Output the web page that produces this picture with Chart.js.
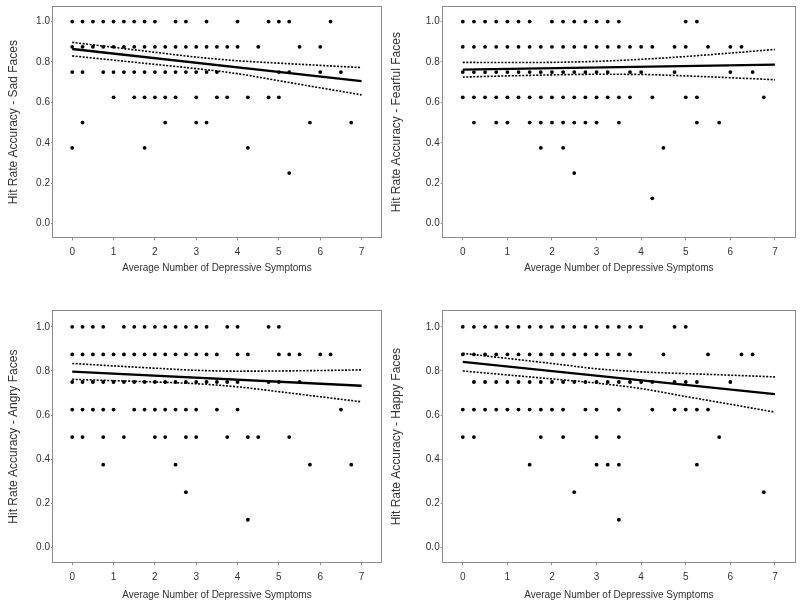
<!DOCTYPE html>
<html>
<head>
<meta charset="utf-8">
<script src="https://cdn.jsdelivr.net/npm/chart.js@4.4.1/dist/chart.umd.min.js"></script>
<style>
    body { margin: 0; background: #fff; }
    #wrap { position: relative; width: 800px; height: 605px; overflow: hidden; }
    canvas { position: absolute; }
</style>
</head>
<body>
<div id="wrap">
    <canvas id="sadChart" width="385" height="290" style="left:0;top:0;width:385px;height:290px"></canvas>
    <canvas id="fearChart" width="415" height="290" style="left:385px;top:0;width:415px;height:290px"></canvas>
    <canvas id="angryChart" width="385" height="315" style="left:0;top:290px;width:385px;height:315px"></canvas>
    <canvas id="happyChart" width="415" height="315" style="left:385px;top:290px;width:415px;height:315px"></canvas>
</div>
<script>
// Níveis de acurácia (linhas de pontos) e ticks
const yLevels = [1.0, 0.875, 0.75, 0.625, 0.5, 0.375, 0.25, 0.125];
const xTicks = [0, 1, 2, 3, 4, 5, 6, 7];
const yTicks = [0.0, 0.2, 0.4, 0.6, 0.8, 1.0];
const fitX = [0, 7];
const bandX = [0, 1, 2, 3, 4, 5, 6, 7];

// Sad faces: x dos pontos por nível de yLevels
const sadRows = [
    [0, 0.25, 0.5, 0.75, 1, 1.25, 1.5, 1.75, 2, 2.5, 2.75, 3.25, 4, 4.75, 5, 5.25, 6.25],
    [0, 0.25, 0.5, 0.75, 1, 1.25, 1.5, 1.75, 2, 2.25, 2.5, 2.75, 3, 3.25, 3.5, 3.75, 4, 4.5, 5.5, 6],
    [0, 0.25, 0.75, 1, 1.25, 1.5, 1.75, 2, 2.25, 2.5, 2.75, 3, 3.25, 3.5, 5, 5.25, 6, 6.5],
    [1, 1.5, 1.75, 2, 2.25, 2.5, 3, 3.5, 3.75, 4.25, 4.75, 5],
    [0.25, 2.25, 3, 3.25, 5.75, 6.75],
    [0, 1.75, 4.25],
    [5.25],
    []
];
const sadFit = [0.864, 0.705];
const sadUpper = [0.897, 0.8725, 0.848, 0.824, 0.806, 0.794, 0.783, 0.772];
const sadLower = [0.83, 0.809, 0.788, 0.767, 0.742, 0.707, 0.672, 0.637];

// Fearful faces
const fearRows = [
    [0, 0.25, 0.5, 0.75, 1, 1.25, 1.5, 2, 2.25, 2.5, 2.75, 3, 3.25, 3.5, 5, 5.25],
    [0, 0.25, 0.5, 0.75, 1, 1.25, 1.5, 1.75, 2, 2.25, 2.5, 2.75, 3, 3.25, 3.5, 3.75, 4, 4.25, 4.75, 5, 5.5, 6, 6.25],
    [0, 0.25, 0.5, 0.75, 1, 1.25, 1.5, 1.75, 2, 2.25, 2.5, 2.75, 3, 3.25, 3.75, 4, 4.75, 6, 6.5],
    [0, 0.25, 0.5, 0.75, 1, 1.25, 1.5, 1.75, 2, 2.25, 2.5, 2.75, 3, 3.25, 3.5, 3.75, 4.25, 5, 5.25, 6.75],
    [0.25, 0.75, 1, 1.5, 1.75, 2, 2.25, 2.5, 2.75, 3, 3.5, 5.25, 5.75],
    [1.75, 2.25, 4.5],
    [2.5],
    [4.25]
];
const fearFit = [0.762, 0.787];
const fearUpper = [0.798, 0.797, 0.798, 0.803, 0.813, 0.827, 0.844, 0.862];
const fearLower = [0.725, 0.731, 0.736, 0.739, 0.738, 0.731, 0.722, 0.712];

// Angry faces
const angryRows = [
    [0, 0.25, 0.5, 0.75, 1.25, 1.5, 1.75, 2, 2.25, 2.5, 2.75, 3, 3.25, 3.75, 4, 4.75, 5],
    [0, 0.25, 0.5, 0.75, 1, 1.25, 1.5, 1.75, 2, 2.25, 2.5, 2.75, 3, 3.25, 3.5, 4, 4.25, 5, 5.25, 5.5, 6, 6.25],
    [0, 0.25, 0.5, 0.75, 1, 1.25, 1.5, 1.75, 2, 2.25, 2.5, 2.75, 3, 3.25, 3.5, 3.75, 4, 4.75, 5, 5.5],
    [0, 0.25, 0.5, 0.75, 1, 1.5, 1.75, 2, 2.25, 2.5, 2.75, 3, 3.5, 4, 6.5],
    [0, 0.25, 0.75, 1.25, 2, 2.25, 2.75, 3, 3.75, 4.25, 4.5, 5.25],
    [0.75, 2.5, 5.75, 6.75],
    [2.75],
    [4.25]
];
const angryFit = [0.797, 0.733];
const angryUpper = [0.834, 0.823, 0.8125, 0.803, 0.799, 0.80, 0.802, 0.805];
const angryLower = [0.762, 0.756, 0.75, 0.742, 0.728, 0.706, 0.683, 0.66];

// Happy faces
const happyRows = [
    [0, 0.25, 0.5, 0.75, 1, 1.25, 1.5, 1.75, 2, 2.25, 2.5, 2.75, 3, 3.25, 3.5, 3.75, 4, 4.75, 5],
    [0, 0.25, 0.5, 0.75, 1, 1.25, 1.5, 1.75, 2, 2.25, 2.5, 2.75, 3, 3.25, 3.5, 3.75, 4.5, 5.5, 6.25, 6.5],
    [0.25, 0.5, 0.75, 1, 1.25, 1.5, 1.75, 2, 2.25, 2.5, 2.75, 3, 3.25, 3.5, 3.75, 4, 4.25, 4.75, 5, 5.25, 6],
    [0, 0.25, 0.5, 0.75, 1, 1.25, 1.5, 1.75, 2, 2.25, 2.75, 3, 3.5, 4.25, 4.75, 5, 5.25, 5.5],
    [0, 0.25, 1.75, 2.25, 3, 3.5, 5.75],
    [1.5, 3, 3.25, 3.5, 5.25],
    [2.5, 6.75],
    [3.5]
];
const happyFit = [0.841, 0.695];
const happyUpper = [0.88, 0.857, 0.834, 0.81, 0.796, 0.788, 0.781, 0.773];
const happyLower = [0.80, 0.782, 0.764, 0.745, 0.72, 0.684, 0.649, 0.613];

const GRAY = '#8c8c8c';
const TEXT = '#333333';
const SANS = "'Liberation Sans', Arial, sans-serif";

// Moldura em volta da área do gráfico
const framePlugin = {
    id: 'frame',
    beforeDatasetsDraw(chart) {
        const { ctx, chartArea: a } = chart;
        ctx.save();
        ctx.strokeStyle = GRAY;
        ctx.lineWidth = 1;
        const l = Math.round(a.left) - 0.5;
        const t = Math.round(a.top) - 0.5;
        ctx.strokeRect(l, t, Math.round(a.right) - Math.round(a.left) + 1, Math.round(a.bottom) - Math.round(a.top) + 1);
        ctx.restore();
    }
};

function toPoints(xs, ys) {
    return xs.map((x, i) => ({ x: x, y: ys[i] }));
}

function makePanel(id, yTitle, rows, fit, upper, lower, box) {
    const points = [];
    rows.forEach((row, i) => {
        row.forEach(x => points.push({ x: x, y: yLevels[i] }));
    });

    const dotted = {
        type: 'line',
        borderColor: '#000',
        borderWidth: 1.6,
        borderDash: [2, 1.5],
        pointRadius: 0,
        fill: false,
        cubicInterpolationMode: 'monotone'
    };

    new Chart(document.getElementById(id), {
        type: 'scatter',
        data: {
            datasets: [
                {
                    data: points,
                    pointRadius: 1.9,
                    pointBackgroundColor: '#000',
                    pointBorderWidth: 0
                },
                { ...dotted, data: toPoints(bandX, upper) },
                { ...dotted, data: toPoints(bandX, lower) },
                {
                    type: 'line',
                    data: toPoints(fitX, fit),
                    borderColor: '#000',
                    borderWidth: 2.4,
                    pointRadius: 0,
                    fill: false
                }
            ]
        },
        options: {
            responsive: false,
            animation: false,
            layout: { padding: { top: box.top, right: box.right, left: 0, bottom: 0 } },
            plugins: {
                legend: { display: false },
                tooltip: { enabled: false }
            },
            scales: {
                x: {
                    type: 'linear',
                    min: box.xMin,
                    max: box.xMax,
                    afterBuildTicks: axis => { axis.ticks = xTicks.map(v => ({ value: v })); },
                    afterFit: axis => { axis.height = box.xHeight; },
                    border: { display: false },
                    grid: { drawOnChartArea: false, tickLength: 3, color: GRAY },
                    ticks: { color: TEXT, padding: 6, maxRotation: 0, font: { family: SANS, size: 10 } },
                    title: {
                        display: true,
                        text: 'Average Number of Depressive Symptoms',
                        color: TEXT,
                        font: { family: SANS, size: 10 },
                        padding: { top: 0, bottom: box.titleBottom }
                    }
                },
                y: {
                    min: -0.068,
                    max: 1.072,
                    afterBuildTicks: axis => { axis.ticks = yTicks.map(v => ({ value: v })); },
                    afterFit: axis => { axis.width = box.yWidth; },
                    border: { display: false },
                    grid: { drawOnChartArea: false, tickLength: 2, color: GRAY },
                    ticks: {
                        color: TEXT,
                        padding: 1,
                        font: { family: SANS, size: 10 },
                        callback: v => v.toFixed(1)
                    },
                    title: {
                        display: true,
                        text: yTitle,
                        color: TEXT,
                        font: { family: SANS, size: 12 },
                        padding: { top: box.titleLeft, bottom: 0 }
                    }
                }
            }
        },
        plugins: [framePlugin]
    });
}

makePanel('sadChart', 'Hit Rate Accuracy - Sad Faces', sadRows, sadFit, sadUpper, sadLower,
    { top: 4, right: 2.5, yWidth: 53, xHeight: 52.7, titleLeft: 6.8, titleBottom: 16, xMin: -0.465, xMax: 7.47 });
makePanel('fearChart', 'Hit Rate Accuracy - Fearful Faces', fearRows, fearFit, fearUpper, fearLower,
    { top: 4, right: 5, yWidth: 57.7, xHeight: 52.7, titleLeft: 4.8, titleBottom: 16, xMin: -0.45, xMax: 7.45 });
makePanel('angryChart', 'Hit Rate Accuracy - Angry Faces', angryRows, angryFit, angryUpper, angryLower,
    { top: 21, right: 2.5, yWidth: 53, xHeight: 42.7, titleLeft: 6.8, titleBottom: 4, xMin: -0.465, xMax: 7.47 });
makePanel('happyChart', 'Hit Rate Accuracy - Happy Faces', happyRows, happyFit, happyUpper, happyLower,
    { top: 21, right: 5, yWidth: 57.7, xHeight: 42.7, titleLeft: 4.8, titleBottom: 4, xMin: -0.45, xMax: 7.45 });
</script>
</body>
</html>
